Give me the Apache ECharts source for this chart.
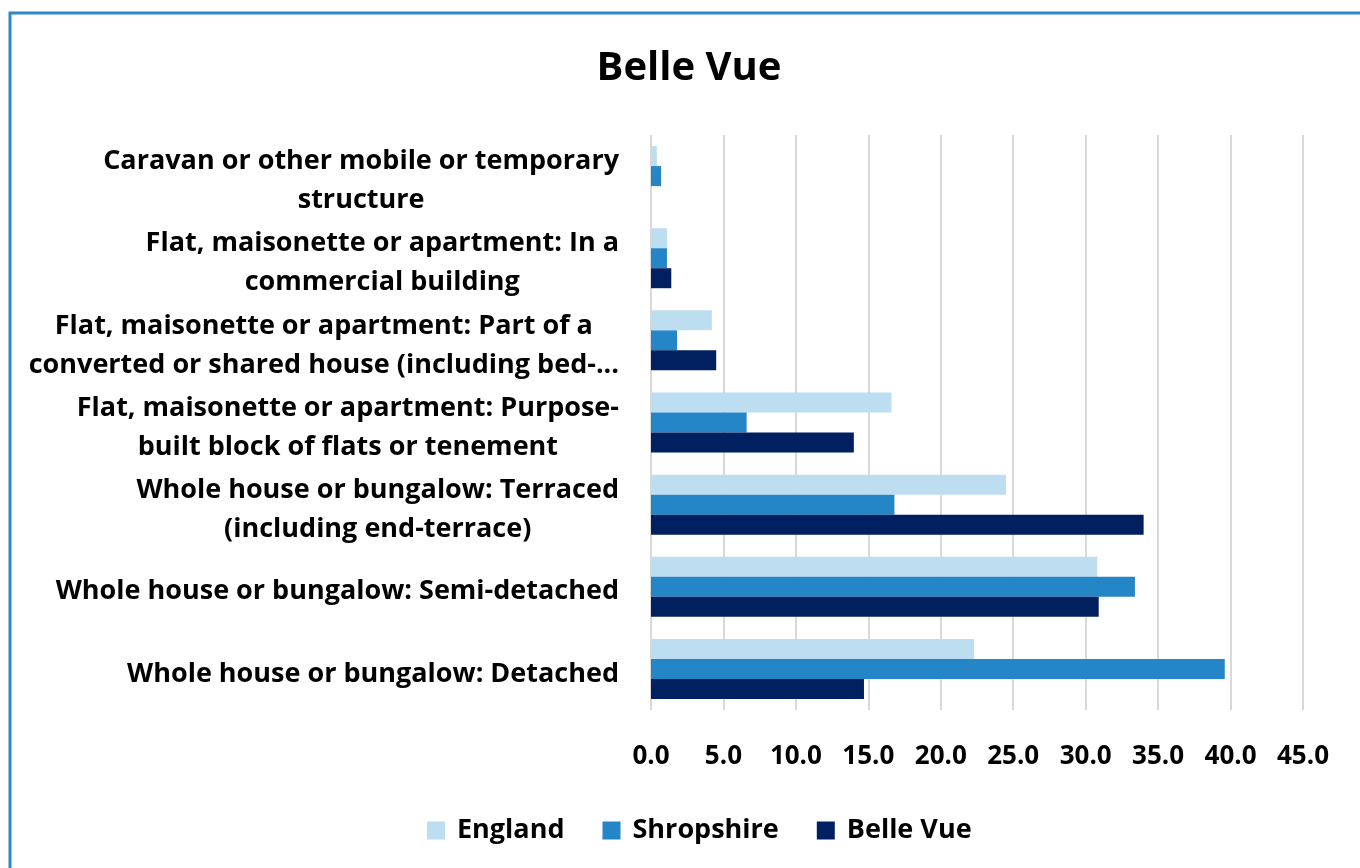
<!DOCTYPE html>
<html>
<head>
<meta charset="utf-8">
<title>Belle Vue</title>
<script src="https://cdn.jsdelivr.net/npm/echarts@6/dist/echarts.min.js"></script>
<style>
  html, body { margin: 0; padding: 0; background: #fff; }
  #main { width: 1360px; height: 868px; }
</style>
</head>
<body>
<div id="main"></div>
<script>
// categories listed top to bottom, as in the picture
var categories = [
    'Caravan or other mobile or temporary\nstructure',
    'Flat, maisonette or apartment: In a\ncommercial building',
    'Flat, maisonette or apartment: Part of a\nconverted or shared house (including bed-...',
    'Flat, maisonette or apartment: Purpose-\nbuilt block of flats or tenement',
    'Whole house or bungalow: Terraced\n(including end-terrace)',
    'Whole house or bungalow: Semi-detached',
    'Whole house or bungalow: Detached'
];
var england    = [0.4, 1.1, 4.2, 16.6, 24.5, 30.8, 22.3];
var shropshire = [0.7, 1.1, 1.8, 6.6, 16.8, 33.4, 39.6];
var belleVue   = [0.0, 1.4, 4.5, 14.0, 34.0, 30.9, 14.7];
var xTicks = [0, 5, 10, 15, 20, 25, 30, 35, 40, 45];

var font = 'Open Sans';
var chart = echarts.init(document.getElementById('main'));

function barSeries(name, data, color) {
    return {
        name: name,
        type: 'bar',
        data: data,
        barWidth: 20,
        barGap: '0%',
        itemStyle: { color: color },
        emphasis: { disabled: true }
    };
}

var option = {
    animation: false,
    textStyle: { fontFamily: font },
    title: {
        text: 'Belle Vue',
        left: 684,
        textAlign: 'center',
        top: 44,
        textStyle: { fontSize: 40, fontWeight: 'bold', color: '#000', fontFamily: font }
    },
    legend: {
        data: ['England', 'Shropshire', 'Belle Vue'],
        bottom: 19,
        left: 422,
        itemWidth: 18,
        itemHeight: 18,
        itemGap: 38,
        icon: 'rect',
        textStyle: { fontSize: 27, fontWeight: 'bold', color: '#000', fontFamily: font, padding: [0, 0, 0, 7] }
    },
    grid: { left: 651, right: 57, top: 135, bottom: 158, containLabel: false },
    xAxis: {
        type: 'value',
        min: 0,
        max: 45,
        interval: 5,
        axisLine: { show: false },
        axisTick: { show: false },
        splitLine: { lineStyle: { color: '#d9d9d9', width: 2 } },
        axisLabel: {
            margin: 34,
            fontSize: 26,
            fontWeight: 'bold',
            color: '#000',
            fontFamily: font,
            formatter: function (v) { return xTicks.indexOf(v) >= 0 ? v.toFixed(1) : ''; }
        }
    },
    yAxis: {
        type: 'category',
        data: categories,
        inverse: true,
        axisLine: { show: false },
        axisTick: { show: false },
        axisLabel: {
            interval: 0,
            margin: 32,
            color: '#000',
            fontSize: 27,
            fontWeight: 'bold',
            fontFamily: font,
            lineHeight: 39,
            padding: [10, 0, 0, 0],
            formatter: function (v) {
                return v.split('\n').map(function (l) { return '{c|' + l + '}'; }).join('\n');
            },
            rich: {
                c: { align: 'center', fontSize: 27, fontWeight: 'bold', lineHeight: 39, color: '#000', fontFamily: font }
            }
        }
    },
    graphic: [{
        type: 'rect',
        shape: { x: 10, y: 13, width: 1400, height: 900 },
        style: { fill: 'none', stroke: '#2e86c8', lineWidth: 3 },
        silent: true
    }],
    series: [
        barSeries('England', england, '#bdddf1'),
        barSeries('Shropshire', shropshire, '#2486c6'),
        barSeries('Belle Vue', belleVue, '#002060')
    ]
};

chart.setOption(option);
</script>
</body>
</html>
